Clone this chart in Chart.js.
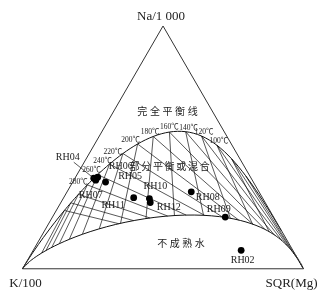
<!DOCTYPE html>
<html>
<head>
<meta charset="utf-8">
<title>Na-K-Mg</title>
<script src="https://cdn.jsdelivr.net/npm/chart.js@4.4.0/dist/chart.umd.min.js"></script>
<style>body{margin:0;background:#fff}</style>
</head>
<body>
<canvas id="chart" width="329" height="301"></canvas>
<script>
// samples, relative % of Na/1000, K/100 and sqrt(Mg)
var samples = ['RH04', 'RH07', 'RH06', 'RH05', 'RH11', 'RH10', 'RH12', 'RH08', 'RH09', 'RH02'];
var naPct = [37.3, 36.5, 37.7, 35.7, 29.3, 28.9, 27.3, 31.7, 21.3, 7.6];
var kPct  = [56.0, 55.7, 54.4, 52.6, 45.8, 40.4, 40.9, 24.1, 17.2, 18.4];
var mgPct = [6.7, 7.8, 7.9, 11.7, 24.9, 30.7, 31.8, 44.2, 61.5, 74.0];

// isotherm temperatures (C) and the ones labelled on the full equilibrium line
var knaTemps = [60, 80, 100, 120, 140, 160, 180, 200, 220, 240, 260, 280, 300, 320, 340];
var kmgTemps = [80, 100, 120, 140, 160, 180, 200, 220, 240, 260, 280, 300, 320, 340];
var labelTemps = [100, 120, 140, 160, 180, 200, 220, 240, 260, 280];

var cornerNames = ['Na/1 000', 'K/100', 'SQR(Mg)'];
var fieldNames = ['完全平衡线', '部分平衡或混合', '不成熟水'];

var R3 = Math.sqrt(3) / 2;
function toXY(na, k, mg) {
    var s = na + k + mg;
    var n = na / s, m = mg / s;
    return {x: m + n / 2, y: n * R3};
}
// Giggenbach (1988) geothermometers
function logNaK(t) { return 1390 / (t + 273.15) - 1.75; }
function logK2Mg(t) { return 14.0 - 4410 / (t + 273.15); }
function fromLogs(lnk, lkm) {
    return toXY(Math.pow(10, lnk) / 10, 1, 100 / Math.pow(10, lkm / 2));
}
function fullPt(t) { return fromLogs(logNaK(t), logK2Mg(t)); }

var fullLine = [];
for (var t = 0; t <= 340; t += 5) fullLine.push(fullPt(t));
[360, 380, 400, 450, 500, 600, 800, 1000, 1500, 3000, 8000].forEach(function (t) { fullLine.push(fullPt(t)); });
fullLine.push({x: 0, y: 0});

var immature = [{x: 0, y: 0}];
for (var L = -3; L <= 4.001; L += 0.05) immature.push(fromLogs(L, (2 - L) / 0.315));
immature.push({x: 1, y: 0});

var lineStyle = {showLine: true, pointRadius: 0, borderColor: '#111', borderWidth: 0.7, fill: false};
var datasets = [];
datasets.push({
    data: samples.map(function (s, i) { return toXY(naPct[i], kPct[i], mgPct[i]); }),
    pointRadius: 3.4, pointBackgroundColor: '#000', pointBorderWidth: 0, showLine: false, order: -1
});
datasets.push(Object.assign({}, lineStyle, {data: [{x: 0, y: 0}, {x: 1, y: 0}, {x: 0.5, y: R3}, {x: 0, y: 0}], borderColor: '#333', borderWidth: 1}));
datasets.push(Object.assign({}, lineStyle, {data: fullLine, borderWidth: 1}));
datasets.push(Object.assign({}, lineStyle, {data: immature, borderWidth: 1}));
knaTemps.forEach(function (t) {
    var l = logNaK(t);
    datasets.push(Object.assign({}, lineStyle, {data: [fullPt(t), fromLogs(l, (2 - l) / 0.315)]}));
});
kmgTemps.forEach(function (t) {
    var g = logK2Mg(t);
    datasets.push(Object.assign({}, lineStyle, {data: [fullPt(t), fromLogs(2 - 0.315 * g, g)]}));
});

var textPlugin = {
    id: 'texts',
    afterDatasetsDraw: function (chart) {
        var ctx = chart.ctx, xs = chart.scales.x, ys = chart.scales.y;
        function px(p) { return [xs.getPixelForValue(p.x), ys.getPixelForValue(p.y)]; }
        ctx.save();
        ctx.fillStyle = '#222';
        ctx.textAlign = 'center';
        ctx.textBaseline = 'middle';

        // corner titles
        ctx.font = "13px 'Liberation Serif'";
        var top = px({x: 0.5, y: R3}), kv = px({x: 0, y: 0}), mv = px({x: 1, y: 0});
        ctx.fillText(cornerNames[0], top[0] - 2, top[1] - 9);
        ctx.fillText(cornerNames[1], kv[0] + 3, kv[1] + 15);
        ctx.fillText(cornerNames[2], mv[0] - 12, mv[1] + 15);

        // field names, drawn glyph by glyph for the wide spacing
        ctx.font = "10px 'Noto Sans CJK SC'";
        var fieldPos = [[167.5, 111, 12.6], [169.6, 166.5, 11.7], [181, 243, 12.5]];
        fieldNames.forEach(function (s, i) {
            var f = fieldPos[i], chars = Array.from(s);
            chars.forEach(function (c, j) {
                ctx.fillText(c, f[0] + (j - (chars.length - 1) / 2) * f[2], f[1]);
            });
        });

        // temperatures on the full equilibrium line
        ctx.font = "7.5px 'Liberation Serif', 'Noto Sans CJK SC'";
        var tOff = {100: [2, -4.5], 120: [2.5, -4], 140: [3, -4], 160: [0, -5], 180: [-3, -4],
                    200: [-7, -4], 220: [-10, -1.5], 240: [-7, -3], 260: [-6, -5], 280: [-9, -3]};
        labelTemps.forEach(function (t) {
            var p = px(fullPt(t)), o = tOff[t] || [0, -4];
            ctx.fillText(t + '℃', p[0] + o[0], p[1] + o[1]);
        });

        // sample names
        ctx.font = "10px 'Liberation Serif'";
        var sOff = {RH04: [-26, -20.5], RH07: [-5, 15.5], RH06: [23, -10.5], RH05: [24.5, -5.5],
                    RH11: [-20.5, 7.5], RH10: [6, -12.5], RH12: [18.5, 5], RH08: [16.5, 5.5],
                    RH09: [-6.5, -7.5], RH02: [1.5, 10.5]};
        samples.forEach(function (s, i) {
            var p = px(toXY(naPct[i], kPct[i], mgPct[i])), o = sOff[s];
            ctx.fillText(s, p[0] + o[0], p[1] + o[1]);
            if (s === 'RH04') {
                ctx.strokeStyle = '#111';
                ctx.lineWidth = 0.7;
                ctx.beginPath();
                ctx.moveTo(p[0] - 20, p[1] - 16);
                ctx.lineTo(p[0], p[1]);
                ctx.stroke();
            }
        });
        ctx.restore();
    }
};

var ctx = document.getElementById('chart').getContext('2d');
var myChart = new Chart(ctx, {
    type: 'scatter',
    data: {datasets: datasets},
    options: {
        responsive: false,
        animation: false,
        layout: {padding: 0},
        plugins: {legend: {display: false}, tooltip: {enabled: false}},
        scales: {
            x: {type: 'linear', display: false, min: -19 / 288, max: 310 / 288},
            y: {type: 'linear', display: false, min: -29 / 288, max: 272 / 288}
        }
    },
    plugins: [textPlugin]
});
</script>
</body>
</html>
